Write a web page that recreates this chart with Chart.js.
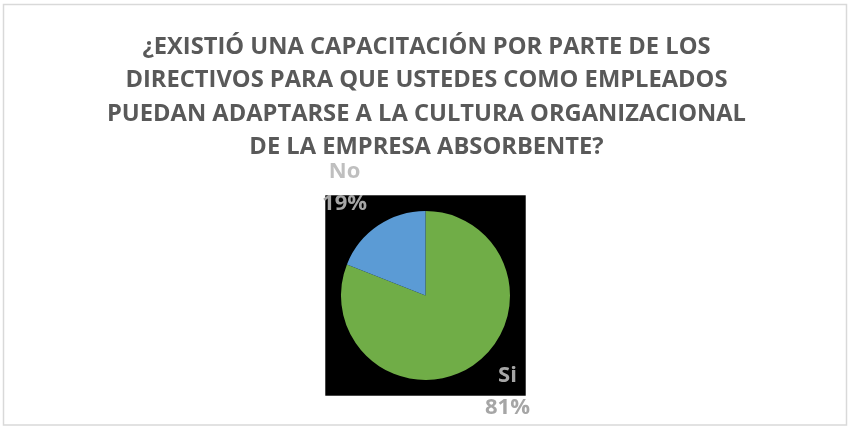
<!DOCTYPE html>
<html>
<head>
<meta charset="utf-8">
<script src="https://cdn.jsdelivr.net/npm/chart.js@4.4.0/dist/chart.umd.min.js"></script>
<style>
  html, body { margin: 0; padding: 0; background: #ffffff; }
  #wrap { width: 848px; height: 428px; }
</style>
</head>
<body>
<div id="wrap"><canvas id="c" width="848" height="428"></canvas></div>
<script>
const titleLines = [
  '¿EXISTIÓ UNA CAPACITACIÓN POR PARTE DE LOS',
  'DIRECTIVOS PARA QUE USTEDES COMO EMPLEADOS',
  'PUEDAN ADAPTARSE A LA CULTURA ORGANIZACIONAL',
  'DE LA EMPRESA ABSORBENTE?'
];
const categories = ['Si', 'No'];
const values = [81, 19];
const sliceColors = ['#70AD47', '#5B9BD5'];

const decorPlugin = {
  id: 'decor',
  beforeDraw(chart) {
    const ctx = chart.ctx;
    ctx.save();
    ctx.fillStyle = '#ffffff';
    ctx.fillRect(0, 0, chart.width, chart.height);
    // chart border
    ctx.strokeStyle = '#D9D9D9';
    ctx.lineWidth = 1.5;
    ctx.strokeRect(3.5, 4.5, 843, 420.5);
    // title
    ctx.fillStyle = '#595959';
    ctx.font = 'bold 24px "Open Sans"';
    ctx.textBaseline = 'alphabetic';
    ctx.textAlign = 'center';
    let maxW = 0;
    titleLines.forEach(l => { maxW = Math.max(maxW, ctx.measureText(l).width); });
    const sx = 639 / maxW;
    titleLines.forEach((l, i) => {
      ctx.save();
      ctx.translate(426.5, 53.5 + i * 33.6);
      ctx.scale(sx, 1);
      ctx.fillText(l, 0, 0);
      ctx.restore();
    });
    // black plot square around the pie
    const arc = chart.getDatasetMeta(0).data[0];
    if (arc) {
      const half = arc.outerRadius * 1.186;
      ctx.fillStyle = '#000000';
      ctx.fillRect(arc.x - half, arc.y - half, half * 2, half * 2);
    }
    ctx.restore();
  },
  afterDatasetsDraw(chart) {
    const ctx = chart.ctx;
    const meta = chart.getDatasetMeta(0);
    const total = values.reduce((a, b) => a + b, 0);
    const offsets = { 0: [0.97, 1.133], 1: [-0.958, -1.278] };
    const nameColors = { 0: '#A6A6A6', 1: '#BFBFBF' };
    ctx.save();
    ctx.font = 'bold 22px "Open Sans"';
    ctx.textAlign = 'center';
    ctx.textBaseline = 'middle';
    meta.data.forEach((arc, i) => {
      const r = arc.outerRadius;
      const cx = arc.x + offsets[i][0] * r;
      const cy = arc.y + offsets[i][1] * r;
      ctx.fillStyle = nameColors[i];
      ctx.fillText(categories[i], cx, cy - 16);
      ctx.fillStyle = '#A6A6A6';
      ctx.fillText(Math.round(values[i] / total * 100) + '%', cx, cy + 16);
    });
    ctx.restore();
  }
};

new Chart(document.getElementById('c'), {
  type: 'pie',
  data: {
    labels: categories,
    datasets: [{
      data: values,
      backgroundColor: sliceColors,
      borderWidth: 0,
      hoverOffset: 0
    }]
  },
  options: {
    responsive: false,
    animation: false,
    layout: { padding: { left: 341, right: 338, top: 211, bottom: 48 } },
    plugins: {
      legend: { display: false },
      tooltip: { enabled: false },
      title: { display: false }
    }
  },
  plugins: [decorPlugin]
});
</script>
</body>
</html>
